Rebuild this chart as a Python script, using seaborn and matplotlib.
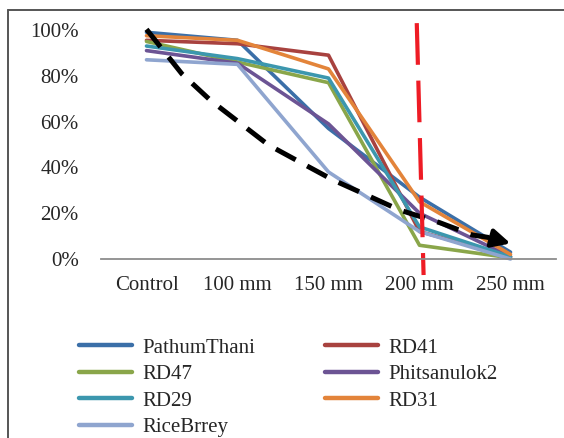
import numpy as np
import pandas as pd
import seaborn as sns
import matplotlib.pyplot as plt
from matplotlib.lines import Line2D

# data (% survival)
treatments = ['Control', '100 mm', '150 mm', '200 mm', '250 mm']
pathum_thani = [99, 95.5, 57, 27, 3]
rd41 = [95.5, 94, 89, 12, 1]
rd47 = [95, 86, 77, 6, 0.5]
phitsanulok2 = [91, 85.5, 59, 20, 1]
rd29 = [93, 87.5, 79, 14, 1]
rd31 = [97.5, 95.5, 83, 25, 2]
rice_brrey = [87, 85, 38, 12, 0]

varieties = ['PathumThani', 'RD41', 'RD47', 'Phitsanulok2', 'RD29', 'RD31', 'RiceBrrey']
series = [pathum_thani, rd41, rd47, phitsanulok2, rd29, rd31, rice_brrey]
colors = ['#3B6FA8', '#A8423F', '#8AA64A', '#6C5494', '#3C97AE', '#E3843A', '#8FA5CF']

# hand-drawn trend arrow and threshold line (data coords)
trend_x = [0, 0.39, 0.70, 1.03, 1.34, 1.71, 2.05, 2.42, 2.78, 3.22, 3.58, 3.76]
trend_y = [100.3, 80.8, 69.4, 59.3, 49.8, 41.8, 34.5, 27.9, 21.4, 15.9, 10.5, 9.4]
trend_tip = (4.0, 6.8)
limit_x = [2.97, 3.045]
limit_y = [103, -7]

rows = []
for name, vals in zip(varieties, series):
    for i, v in enumerate(vals):
        rows.append({'pos': i, 'value': v, 'variety': name})
df = pd.DataFrame(rows)

sns.set_style('white')
plt.rcParams['font.family'] = ['Liberation Serif', 'DejaVu Serif']

fig = plt.figure(figsize=(5.64, 4.38), dpi=100)
ax = fig.add_axes([101 / 564, 1 - 259 / 438, 455 / 564, 229 / 438])

sns.lineplot(data=df, x='pos', y='value', hue='variety', hue_order=varieties,
             palette=dict(zip(varieties, colors)), sort=False, linewidth=2.6,
             ax=ax, legend=False)
for ln in ax.lines:
    ln.set_clip_on(False)

ax.plot(trend_x, trend_y, color='black', lw=3.6, dashes=(4.5, 2.6), clip_on=False,
        solid_capstyle='butt', dash_capstyle='butt')
ax.annotate('', xy=trend_tip, xytext=(trend_x[-1], trend_y[-1]),
            arrowprops=dict(arrowstyle='-|>,head_length=1.1,head_width=0.55',
                            color='black', lw=3.2, shrinkA=0, shrinkB=0),
            annotation_clip=False)
ax.plot(limit_x, limit_y, color='#EE1C25', lw=3, dashes=(10, 3.8), clip_on=False)

ax.set_xlim(-0.5, 4.5)
ax.set_ylim(0, 100)
ax.set_xticks(range(len(treatments)))
ax.set_xticklabels(treatments)
ax.set_yticks(np.arange(0, 101, 20))
ax.set_yticklabels([f'{t}%' for t in range(0, 101, 20)])
ax.tick_params(axis='y', length=0, pad=16, labelsize=15)
ax.tick_params(axis='x', length=0, pad=12, labelsize=15)
ax.set_xlabel('')
ax.set_ylabel('')
for side in ['top', 'right', 'left']:
    ax.spines[side].set_visible(False)
ax.spines['bottom'].set_color('#8C8C8C')
ax.spines['bottom'].set_linewidth(1.3)

# legend, filled column by column
order = ['PathumThani', 'RD47', 'RD29', 'RiceBrrey', 'RD41', 'Phitsanulok2', 'RD31']
cmap = dict(zip(varieties, colors))
handles = [Line2D([], [], color=cmap[n], lw=3.2, solid_capstyle='round') for n in order]
fig.legend(handles, order, loc='upper left', bbox_to_anchor=(79 / 564, 1 - 338 / 438),
           ncol=2, frameon=False, fontsize=15, handlelength=2.55, handletextpad=0.48,
           columnspacing=3.35, labelspacing=0.33, borderpad=0, borderaxespad=0)

# outer frame (only top and left edges are visible)
fig.add_artist(Line2D([8 / 564, 1], [1 - 10 / 438, 1 - 10 / 438], color='#555555', lw=1.4))
fig.add_artist(Line2D([8 / 564, 8 / 564], [0, 1 - 10 / 438], color='#555555', lw=1.4))

fig.savefig('out.png', dpi=100)
